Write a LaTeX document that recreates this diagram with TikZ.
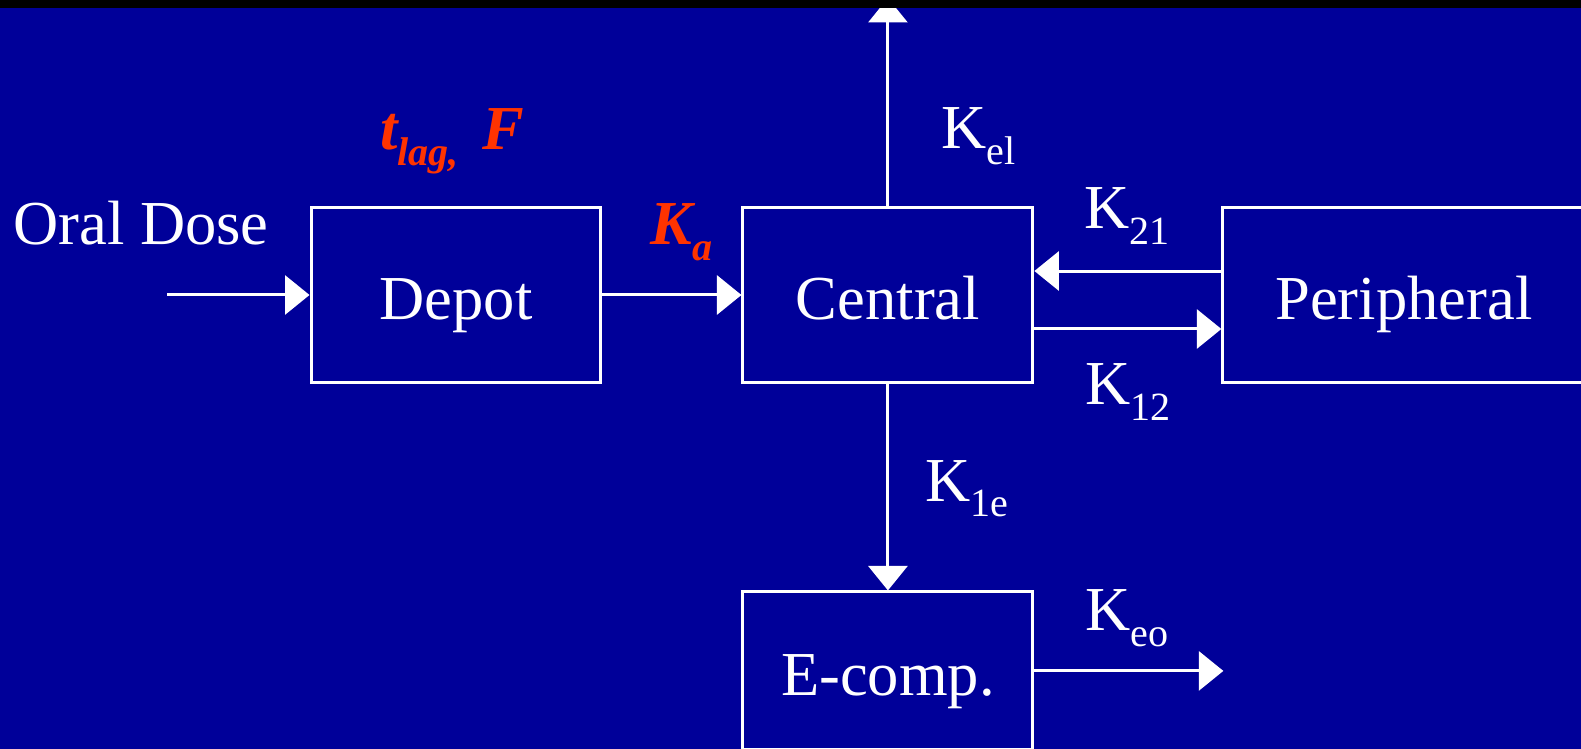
\documentclass[tikz,border=0pt]{standalone}
\usepackage{fontspec}
\setmainfont{Liberation Serif}
\usetikzlibrary{positioning, arrows.meta}
\definecolor{slideblue}{HTML}{000099}
\definecolor{paramred}{HTML}{FF3300}
\newcommand{\lowsub}[1]{\raisebox{-0.32cm}{\fontsize{22.8}{24}\selectfont #1}}

\begin{document}
\begin{tikzpicture}[
    x=0.02cm, y=-0.02cm,
    >={Triangle[length=0.49cm, width=0.78cm]},
    every node/.style={font=\fontsize{35.6}{40}\selectfont, text=white},
    comp/.style={
      rectangle, draw=white, line width=0.06cm,
      minimum width=5.8cm, minimum height=3.52cm,
      text height=1cm, text depth=0pt, inner sep=0pt
    },
    rate/.style={anchor=base west, inner sep=0pt},
    param/.style={anchor=base west, inner sep=0pt, text=paramred,
      font=\fontsize{35.6}{40}\selectfont\bfseries\itshape},
    arr/.style={->, white, line width=0.06cm},
  ]

  % ============ Slide background ============
  \fill[slideblue] (0,0) rectangle (1581,749);
  \useasboundingbox (0,0) rectangle (1581,749);

  % ============ Compartments ============
  \node[comp] (depot) at (456,295) {Depot};
  \node[comp, right=2.78cm of depot] (central) {Central};
  \node[comp, right=3.74cm of central, minimum width=7.24cm] (periph) {Peripheral};
  \node[comp, below=4.12cm of central, minimum height=3.16cm] (ecomp) {E-comp.};

  % ============ Labels ============
  \node[rate] (dose) at (13,245) {Oral Dose};
  \node[param] (lag) at (380,150) {t\lowsub{lag,}\hspace{0.16cm} F};
  \node[param] (ka) at (650,245) {K\lowsub{a}};
  \node[rate] (kel) at (941,149) {K\lowsub{el}};
  \node[rate] (k21) at (1084,229) {K\lowsub{21}};
  \node[rate] (k12) at (1085,405) {K\lowsub{12}};
  \node[rate] (k1e) at (925,501) {K\lowsub{1e}};
  \node[rate] (keo) at (1085,630) {K\lowsub{eo}};

  % ============ Free ends ============
  \coordinate (start) at (167,295);
  \coordinate (elim) at (central.north |- 0,-2);
  \coordinate (eout) at ([xshift=3.78cm]ecomp.east);

  % ============ Arrows ============
  % Dose -> Depot -> Central
  \draw[arr] (start) -- (depot);
  \draw[arr] (depot) -- (central);
  % elimination
  \draw[arr] (central) -- (elim);
  % Central <-> Peripheral
  \draw[arr] ([yshift=0.48cm]periph.west) -- ([yshift=0.48cm]central.east);
  \draw[arr] ([yshift=-0.68cm]central.east) -- ([yshift=-0.68cm]periph.west);
  % effect compartment
  \draw[arr] (central) -- (ecomp);
  \draw[arr] (ecomp) -- (eout);

  % ============ Top band ============
  \fill[black] (0,0) rectangle (1581,8);

\end{tikzpicture}
\end{document}
